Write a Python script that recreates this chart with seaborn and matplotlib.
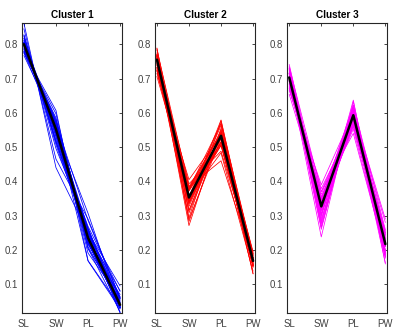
# parallel coordinate profiles of the three clusters (normalised measurements)
import numpy as np
import pandas as pd
import seaborn as sns
import matplotlib.pyplot as plt

features = ['SL', 'SW', 'PL', 'PW']

# one row per sample: SL, SW, PL, PW
cluster1 = [
    [0.804, 0.552, 0.221, 0.032], [0.828, 0.507, 0.237, 0.034], [0.805, 0.548, 0.223, 0.034],
    [0.800, 0.539, 0.261, 0.035], [0.791, 0.570, 0.221, 0.032], [0.784, 0.566, 0.247, 0.058],
    [0.780, 0.577, 0.237, 0.051], [0.802, 0.545, 0.241, 0.032], [0.806, 0.532, 0.257, 0.037],
    [0.818, 0.517, 0.250, 0.017], [0.804, 0.551, 0.223, 0.030], [0.787, 0.557, 0.262, 0.033],
    [0.823, 0.514, 0.240, 0.017], [0.803, 0.560, 0.205, 0.019], [0.811, 0.559, 0.168, 0.028],
    [0.774, 0.597, 0.204, 0.054], [0.794, 0.574, 0.191, 0.059], [0.803, 0.551, 0.221, 0.047],
    [0.807, 0.538, 0.241, 0.042], [0.780, 0.581, 0.229, 0.046], [0.817, 0.515, 0.257, 0.030],
    [0.786, 0.570, 0.231, 0.062], [0.776, 0.607, 0.169, 0.034], [0.806, 0.522, 0.269, 0.079],
    [0.776, 0.550, 0.307, 0.032], [0.826, 0.496, 0.264, 0.033], [0.798, 0.543, 0.255, 0.064],
    [0.806, 0.543, 0.233, 0.031], [0.861, 0.440, 0.249, 0.057], [0.789, 0.552, 0.252, 0.095],
    [0.767, 0.571, 0.286, 0.060], [0.845, 0.465, 0.290, 0.060], [0.812, 0.530, 0.228, 0.048],
    [0.795, 0.565, 0.210, 0.040], [0.779, 0.585, 0.216, 0.070], [0.799, 0.548, 0.243, 0.081],
]

cluster2 = [
    [0.767, 0.351, 0.515, 0.153], [0.745, 0.373, 0.524, 0.175], [0.755, 0.339, 0.536, 0.164],
    [0.754, 0.315, 0.548, 0.178], [0.758, 0.327, 0.537, 0.175], [0.722, 0.355, 0.570, 0.165],
    [0.726, 0.380, 0.542, 0.184], [0.759, 0.372, 0.511, 0.155], [0.763, 0.335, 0.532, 0.150],
    [0.725, 0.376, 0.543, 0.195], [0.769, 0.308, 0.538, 0.154], [0.739, 0.376, 0.526, 0.188],
    [0.789, 0.289, 0.526, 0.131], [0.731, 0.347, 0.563, 0.168], [0.759, 0.393, 0.488, 0.176],
    [0.769, 0.356, 0.505, 0.161], [0.706, 0.378, 0.568, 0.189], [0.757, 0.352, 0.535, 0.130],
    [0.764, 0.271, 0.555, 0.185], [0.762, 0.340, 0.531, 0.150], [0.770, 0.353, 0.505, 0.164],
    [0.741, 0.294, 0.577, 0.177], [0.767, 0.348, 0.516, 0.156], [0.765, 0.315, 0.540, 0.157],
    [0.733, 0.355, 0.550, 0.183], [0.787, 0.359, 0.483, 0.138], [0.765, 0.334, 0.529, 0.153],
    [0.764, 0.356, 0.514, 0.158], [0.715, 0.405, 0.536, 0.191], [0.755, 0.349, 0.529, 0.169],
    [0.775, 0.283, 0.541, 0.160], [0.747, 0.340, 0.543, 0.177], [0.723, 0.342, 0.579, 0.158],
    [0.770, 0.354, 0.508, 0.154], [0.732, 0.385, 0.540, 0.154], [0.783, 0.384, 0.460, 0.169],
]

cluster3 = [
    [0.654, 0.343, 0.623, 0.259], [0.691, 0.321, 0.607, 0.226], [0.715, 0.302, 0.594, 0.211],
    [0.693, 0.319, 0.616, 0.198], [0.686, 0.317, 0.612, 0.232], [0.710, 0.280, 0.616, 0.196],
    [0.671, 0.342, 0.616, 0.233], [0.714, 0.284, 0.616, 0.176], [0.714, 0.266, 0.618, 0.192],
    [0.692, 0.346, 0.586, 0.240], [0.716, 0.352, 0.561, 0.220], [0.716, 0.302, 0.593, 0.213],
    [0.717, 0.316, 0.580, 0.221], [0.693, 0.304, 0.608, 0.243], [0.678, 0.327, 0.596, 0.280],
    [0.696, 0.348, 0.576, 0.250], [0.706, 0.326, 0.597, 0.196], [0.693, 0.342, 0.603, 0.198],
    [0.706, 0.238, 0.633, 0.211], [0.727, 0.267, 0.606, 0.182], [0.706, 0.327, 0.583, 0.235],
    [0.683, 0.342, 0.598, 0.244], [0.715, 0.260, 0.622, 0.186], [0.731, 0.313, 0.569, 0.209],
    [0.696, 0.343, 0.592, 0.218], [0.715, 0.318, 0.596, 0.179], [0.728, 0.329, 0.563, 0.211],
    [0.712, 0.350, 0.572, 0.210], [0.696, 0.304, 0.609, 0.228], [0.731, 0.305, 0.589, 0.162],
    [0.728, 0.275, 0.600, 0.187], [0.716, 0.344, 0.580, 0.181], [0.670, 0.362, 0.596, 0.255],
    [0.711, 0.355, 0.569, 0.213], [0.724, 0.325, 0.567, 0.220], [0.722, 0.323, 0.560, 0.248],
    [0.690, 0.351, 0.597, 0.211], [0.675, 0.370, 0.588, 0.250], [0.741, 0.332, 0.553, 0.188],
    [0.699, 0.379, 0.568, 0.213], [0.730, 0.290, 0.579, 0.220], [0.694, 0.296, 0.637, 0.159],
    [0.735, 0.370, 0.540, 0.190], [0.665, 0.390, 0.600, 0.290],
]

# cluster centres (black lines)
centre1 = [0.800, 0.552, 0.235, 0.040]
centre2 = [0.755, 0.353, 0.533, 0.168]
centre3 = [0.703, 0.327, 0.593, 0.217]

clusters = [cluster1, cluster2, cluster3]
centres = [centre1, centre2, centre3]
titles = ['Cluster 1', 'Cluster 2', 'Cluster 3']
colors = ['#0000ff', '#ff0000', '#ff00ff']

sns.set_style('white')
plt.rcParams['font.family'] = ['Liberation Sans', 'DejaVu Sans']

fig = plt.figure(figsize=(3.94, 3.27), dpi=100)
lefts = [22 / 394, 155 / 394, 287.3 / 394]
bottom = 1 - 312.7 / 327
height = (312.7 - 23.3) / 327

all_vals = np.concatenate([np.array(c).ravel() for c in clusters])
ymin, ymax = all_vals.min(), all_vals.max()

for k in range(3):
    ax = fig.add_axes([lefts[k], bottom, 100 / 394, height])
    rows = []
    for i, r in enumerate(clusters[k]):
        for f, v in zip(features, r):
            rows.append({'id': i, 'feature': f, 'value': v})
    df = pd.DataFrame(rows)
    sns.lineplot(data=df, x='feature', y='value', units='id', estimator=None,
                 color=colors[k], lw=0.55, sort=False, ax=ax)
    sns.lineplot(x=features, y=centres[k], color='black', lw=1.8, sort=False, ax=ax)

    ax.set_xlim(-0.06, 3.06)
    ax.set_ylim(ymin, ymax)
    ax.set_yticks([0.1, 0.2, 0.3, 0.4, 0.5, 0.6, 0.7, 0.8])
    ax.set_yticklabels(['0.1', '0.2', '0.3', '0.4', '0.5', '0.6', '0.7', '0.8'])
    ax.set_xlabel('')
    ax.set_ylabel('')
    ax.set_title(titles[k], fontsize=7.2, fontweight='bold', pad=3.5, color='#000000')
    ax.tick_params(direction='in', length=2.2, width=0.6, labelsize=6.9,
                   colors='#262626', labelcolor='#404040', top=True, right=True)
    ax.tick_params(axis='x', pad=4.2)
    ax.tick_params(axis='y', pad=3.2)
    for s in ax.spines.values():
        s.set_color('#262626')
        s.set_linewidth(0.8)

fig.savefig('out.png', dpi=100)
